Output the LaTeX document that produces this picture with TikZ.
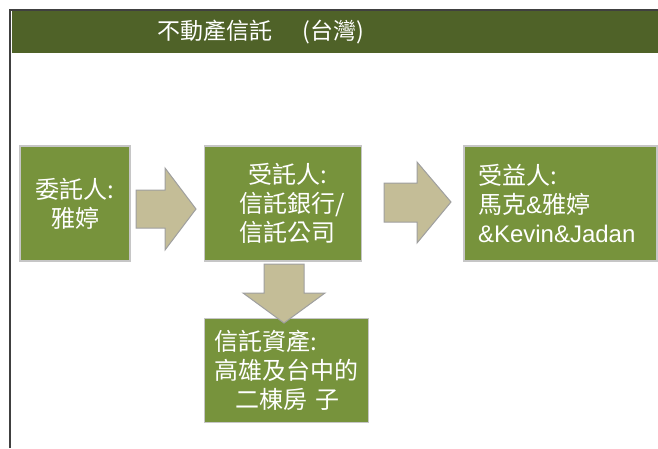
\documentclass[tikz,border=0pt]{standalone}
\usepackage{fontspec}
\setmainfont{Liberation Sans}
\newfontfamily\cjk{Noto Sans CJK TC}
\usetikzlibrary{
    positioning
}
\definecolor{titlegreen}{HTML}{4F6228}
\definecolor{boxgreen}{HTML}{77933C}
\definecolor{arrowtan}{HTML}{C4BD97}

\begin{document}
\begin{tikzpicture}[x=1pt, y=-1pt,
    party/.style={draw=gray!45, line width=1.5pt, fill=boxgreen, text=white,
                  font=\cjk\fontsize{24}{29}\selectfont, inner sep=0pt},
    blockarrow/.style={draw=gray!75, line width=1pt, fill=arrowtan}]
    \useasboundingbox (0,0) rectangle (658,448);

    % frame and title bar
    \fill[titlegreen] (12,11) rectangle (658,53);
    \draw[black!75, line width=2pt] (10,448) -- (10,10) -- (658,10);
    \node[text=white, font=\cjk\fontsize{23}{28}\selectfont] (title) at (261,32)
        {不動產信託\hspace{30pt}(台灣)};

    % parties
    \node[party, minimum width=110pt, minimum height=115pt, align=center] (settlor)
        at (75,203.5) {委託人:\\雅婷};
    \node[party, minimum width=157pt, minimum height=115pt, text width=87pt,
          align=left, right=73pt of settlor] (trustee)
        {\hspace*{9pt}受託人:\\信託銀行/\\信託公司};
    \node[party, minimum width=193pt, minimum height=115pt, text width=165pt,
          align=left, right=101pt of trustee] (beneficiary)
        {受益人:\\馬克{\rmfamily\&}雅婷\\{\rmfamily\&Kevin\&Jadan}};
    \node[party, minimum width=164pt, minimum height=104pt, text width=144pt,
          align=left, below=56pt of trustee.south west, anchor=north west] (asset)
        {信託資產:\\高雄及台中的\\\hspace*{21pt}二棟房 子};

    % block arrows
    \filldraw[blockarrow] (136,190) -- (165,190) -- (165,168) -- (196,209)
        -- (165,250) -- (165,228) -- (136,228) -- cycle;
    \filldraw[blockarrow] (384,183) -- (417,183) -- (417,162) -- (451,202)
        -- (417,243) -- (417,222) -- (384,222) -- cycle;
    \filldraw[blockarrow] (264,264) -- (304,264) -- (304,293) -- (325,293)
        -- (284,323) -- (243,293) -- (264,293) -- cycle;
\end{tikzpicture}
\end{document}
